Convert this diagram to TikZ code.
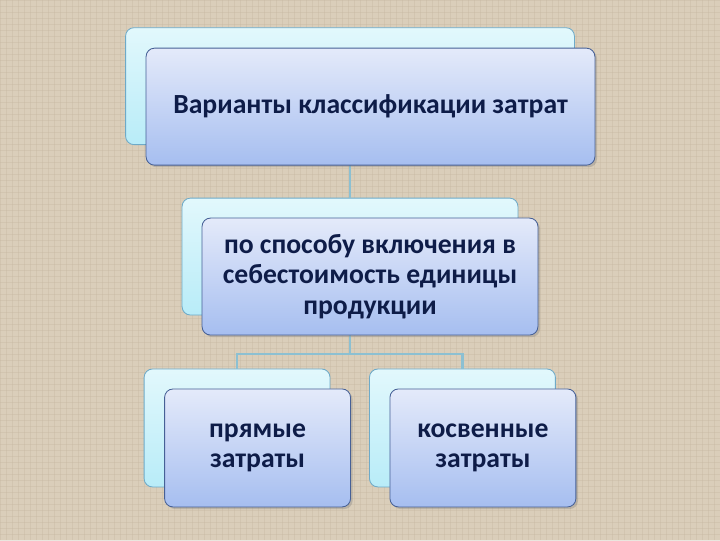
\documentclass[tikz,border=0pt]{standalone}
\usepackage{fontspec}
\setmainfont{Carlito}
\usetikzlibrary{shadows}

\definecolor{paper}{RGB}{218,206,186}
\definecolor{paperline}{RGB}{196,182,160}
\definecolor{backtop}{RGB}{226,248,252}
\definecolor{backbot}{RGB}{184,236,248}
\definecolor{backdraw}{RGB}{110,170,200}
\definecolor{fronttop}{RGB}{228,234,250}
\definecolor{frontbot}{RGB}{166,190,240}
\definecolor{frontdraw}{RGB}{70,96,150}
\definecolor{linkcol}{RGB}{140,192,210}
\definecolor{textcol}{RGB}{14,28,72}

\tikzset{
  backbox/.style={draw=backdraw, line width=0.6pt, rounded corners=6pt,
    top color=backtop, bottom color=backbot},
  frontbox/.style={draw=frontdraw, line width=0.6pt, rounded corners=6pt,
    top color=fronttop, bottom color=frontbot, text=textcol,
    font=\bfseries\fontsize{19.7}{21.5}\selectfont, align=center,
    drop shadow={shadow xshift=1.5pt, shadow yshift=-1.5pt, opacity=0.35}},
  link/.style={draw=linkcol, line width=1.5pt}
}

\begin{document}
\begin{tikzpicture}[x=0.025cm, y=-0.025cm]
  % paper background
  \fill[paper] (0,0) rectangle (720,540);
  \foreach \k in {0,6,...,720}
    \draw[paperline, line width=0.3pt, opacity=0.35] (\k,0) -- (\k,540);
  \foreach \k in {0,6,...,540}
    \draw[paperline, line width=0.3pt, opacity=0.35] (0,\k) -- (720,\k);
  \useasboundingbox (0,0) rectangle (720,540);

  % back cards
  \node[backbox, minimum width=11.225cm, minimum height=2.925cm] (topback) at (350,86) {};
  \node[backbox, minimum width=8.4cm, minimum height=2.925cm] (midback) at (350,256.5) {};
  \node[backbox, minimum width=4.65cm, minimum height=2.95cm] (leftback) at (237,428) {};
  \node[backbox, minimum width=4.65cm, minimum height=2.95cm] (rightback) at (462.5,428) {};

  % connectors between back cards
  \draw[link] (topback.south) -- (midback.north);
  \coordinate (fork) at (350,354);
  \draw[link] (midback.south) -- (fork);
  \draw[link] (leftback.north) |- (fork) -| (rightback.north);

  % front cards
  \node[frontbox, minimum width=11.225cm, minimum height=2.925cm] (topfront) at (370.5,106.5)
    {Варианты классификации затрат};
  \node[frontbox, minimum width=8.4cm, minimum height=2.925cm] (midfront) at (370,276.5)
    {по способу включения в\\себестоимость единицы\\продукции};
  \node[frontbox, minimum width=4.65cm, minimum height=2.95cm] (leftfront) at (257.5,448)
    {прямые\\затраты};
  \node[frontbox, minimum width=4.65cm, minimum height=2.95cm] (rightfront) at (483,448)
    {косвенные\\затраты};
\end{tikzpicture}
\end{document}
